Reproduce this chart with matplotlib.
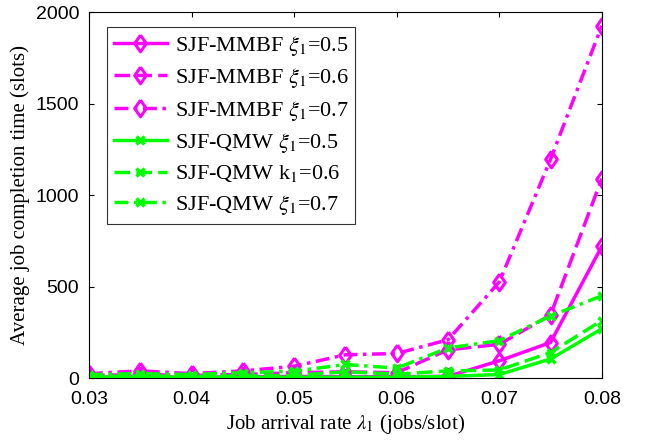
import matplotlib
matplotlib.use('Agg')
import matplotlib.pyplot as plt

# arrival rates
rate = [0.03, 0.035, 0.04, 0.045, 0.05, 0.055, 0.06, 0.065, 0.07, 0.075, 0.08]

# SJF-MMBF
mmbf_05 = [5, 8, 5, 8, 10, 8, 8, 10, 95, 195, 720]
mmbf_06 = [15, 20, 15, 20, 30, 35, 30, 155, 185, 345, 1090]
mmbf_07 = [25, 40, 25, 40, 65, 128, 135, 210, 525, 1195, 1925]
# SJF-QMW
qmw_05 = [5, 5, 5, 5, 5, 5, 5, 10, 20, 105, 270]
qmw_06 = [10, 12, 10, 12, 15, 35, 22, 40, 45, 140, 315]
qmw_07 = [20, 25, 20, 30, 38, 75, 55, 165, 205, 340, 450]

labels = [r'SJF-MMBF $\xi_1$=0.5', r'SJF-MMBF $\xi_1$=0.6', r'SJF-MMBF $\xi_1$=0.7',
          r'SJF-QMW $\xi_1$=0.5', r'SJF-QMW k$_1$=0.6', r'SJF-QMW $\xi_1$=0.7']

plt.rcParams['mathtext.fontset'] = 'stix'

fig = plt.figure(figsize=(6.45, 4.46), dpi=100)
ax = fig.add_axes([0.138, 0.152, 0.795, 0.821])

mag = '#ff00ff'
grn = '#00ff00'
styles = ['-', (0, (4.5, 1.8)), (0, (4, 1.6, 1, 1.6))]
diamond = [(0, 1), (0.7, 0), (0, -1), (-0.7, 0), (0, 1)]

for ys, ls, lab in zip([mmbf_05, mmbf_06, mmbf_07], styles, labels[:3]):
    ax.plot(rate, ys, color=mag, linestyle=ls, linewidth=2.5, marker=diamond,
            markersize=12, markerfacecolor='none', markeredgewidth=2.2, label=lab)
for ys, ls, lab in zip([qmw_05, qmw_06, qmw_07], styles, labels[3:]):
    ax.plot(rate, ys, color=grn, linestyle=ls, linewidth=2.5, marker='x',
            markersize=6, markeredgewidth=2.5, label=lab)

ax.set_xlim(0.03, 0.08)
ax.set_ylim(0, 2000)
ax.set_xticks([0.03, 0.04, 0.05, 0.06, 0.07, 0.08])
ax.set_yticks([0, 500, 1000, 1500, 2000])
ax.tick_params(direction='in', top=True, right=True, labelsize=14)
ax.tick_params(axis='x', pad=9)
ax.tick_params(axis='y', pad=7)
for t in ax.get_xticklabels() + ax.get_yticklabels():
    t.set_fontfamily('Liberation Sans')

ax.set_xlabel(r'Job arrival rate $\lambda_1$ (jobs/slot)', fontsize=15,
              fontfamily='Liberation Serif', labelpad=3)
ax.set_ylabel('Average job completion time (slots)', fontsize=15,
              fontfamily='Liberation Serif', labelpad=4)

leg = ax.legend(loc='upper left', bbox_to_anchor=(0.035, 0.959), borderaxespad=0,
                fancybox=False, edgecolor='black', handlelength=2.4,
                handletextpad=0.35, borderpad=0.3,
                prop={'family': 'Liberation Serif', 'size': 16}, labelspacing=0.38)
leg.get_frame().set_linewidth(0.8)

fig.savefig('out.png', dpi=100)
